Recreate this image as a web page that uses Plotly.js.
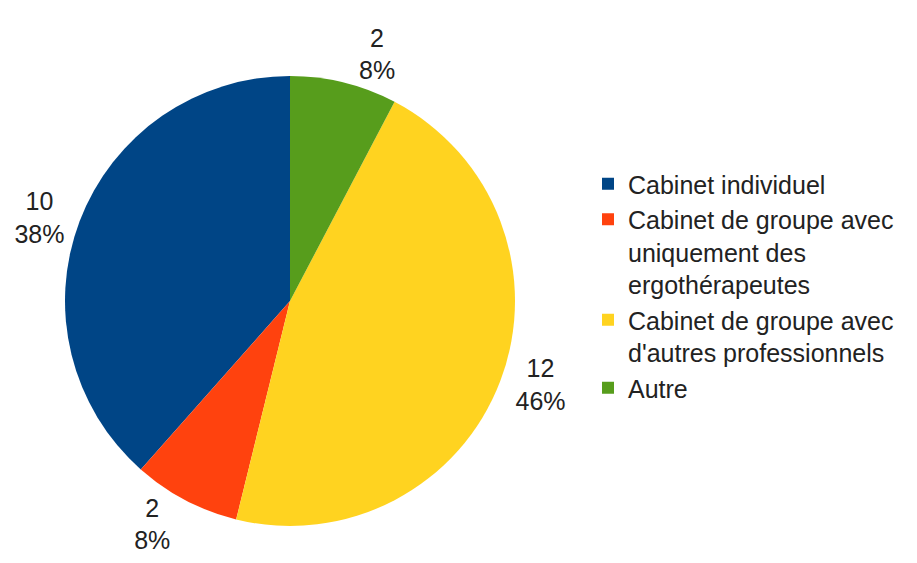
<!DOCTYPE html>
<html>
<head>
<meta charset="utf-8">
<script src="https://cdn.plot.ly/plotly-3.0.1.min.js"></script>
<style>html,body{margin:0;padding:0;background:#fff;}#chart{width:917px;height:563px;}</style>
</head>
<body>
<div id="chart"></div>
<script>
const categories = [
  "Cabinet individuel",
  "Cabinet de groupe avec<br>uniquement des<br>ergothérapeutes",
  "Cabinet de groupe avec<br>d'autres professionnels",
  "Autre"
];
const values = [10, 2, 12, 2];
const colors = ["#004586", "#ff420e", "#ffd320", "#579d1c"];

const W = 917, H = 563;
const cx = 290, cy = 301, r = 225;
const total = values.reduce((a, b) => a + b, 0);

const trace = {
  type: "pie",
  labels: categories,
  values: values,
  sort: false,
  direction: "counterclockwise",
  rotation: -values[0] / total * 360,
  marker: {colors: colors, line: {width: 0}},
  textposition: "outside",
  texttemplate: "%{value}<br>%{percent:.0%}",
  outsidetextfont: {family: "Liberation Sans, Arial, sans-serif", size: 25, color: "#222"},
  hoverinfo: "label+value+percent",
  domain: {
    x: [(cx - r) / W, (cx + r) / W],
    y: [(H - cy - r) / H, (H - cy + r) / H]
  },
  automargin: false
};

const layout = {
  width: W,
  height: H,
  margin: {l: 0, r: 0, t: 0, b: 0},
  paper_bgcolor: "#ffffff",
  plot_bgcolor: "#ffffff",
  showlegend: true,
  legend: {
    x: 588 / W,
    xanchor: "left",
    y: 1 - 161 / H,
    yanchor: "top",
    valign: "top",
    font: {family: "Liberation Sans, Arial, sans-serif", size: 25, color: "#222"},
    itemwidth: 30,
    bgcolor: "rgba(0,0,0,0)",
    tracegroupgap: 0
  },
  font: {family: "Liberation Sans, Arial, sans-serif", color: "#222"}
};

Plotly.newPlot("chart", [trace], layout, {displayModeBar: false, staticPlot: true});
</script>
</body>
</html>
